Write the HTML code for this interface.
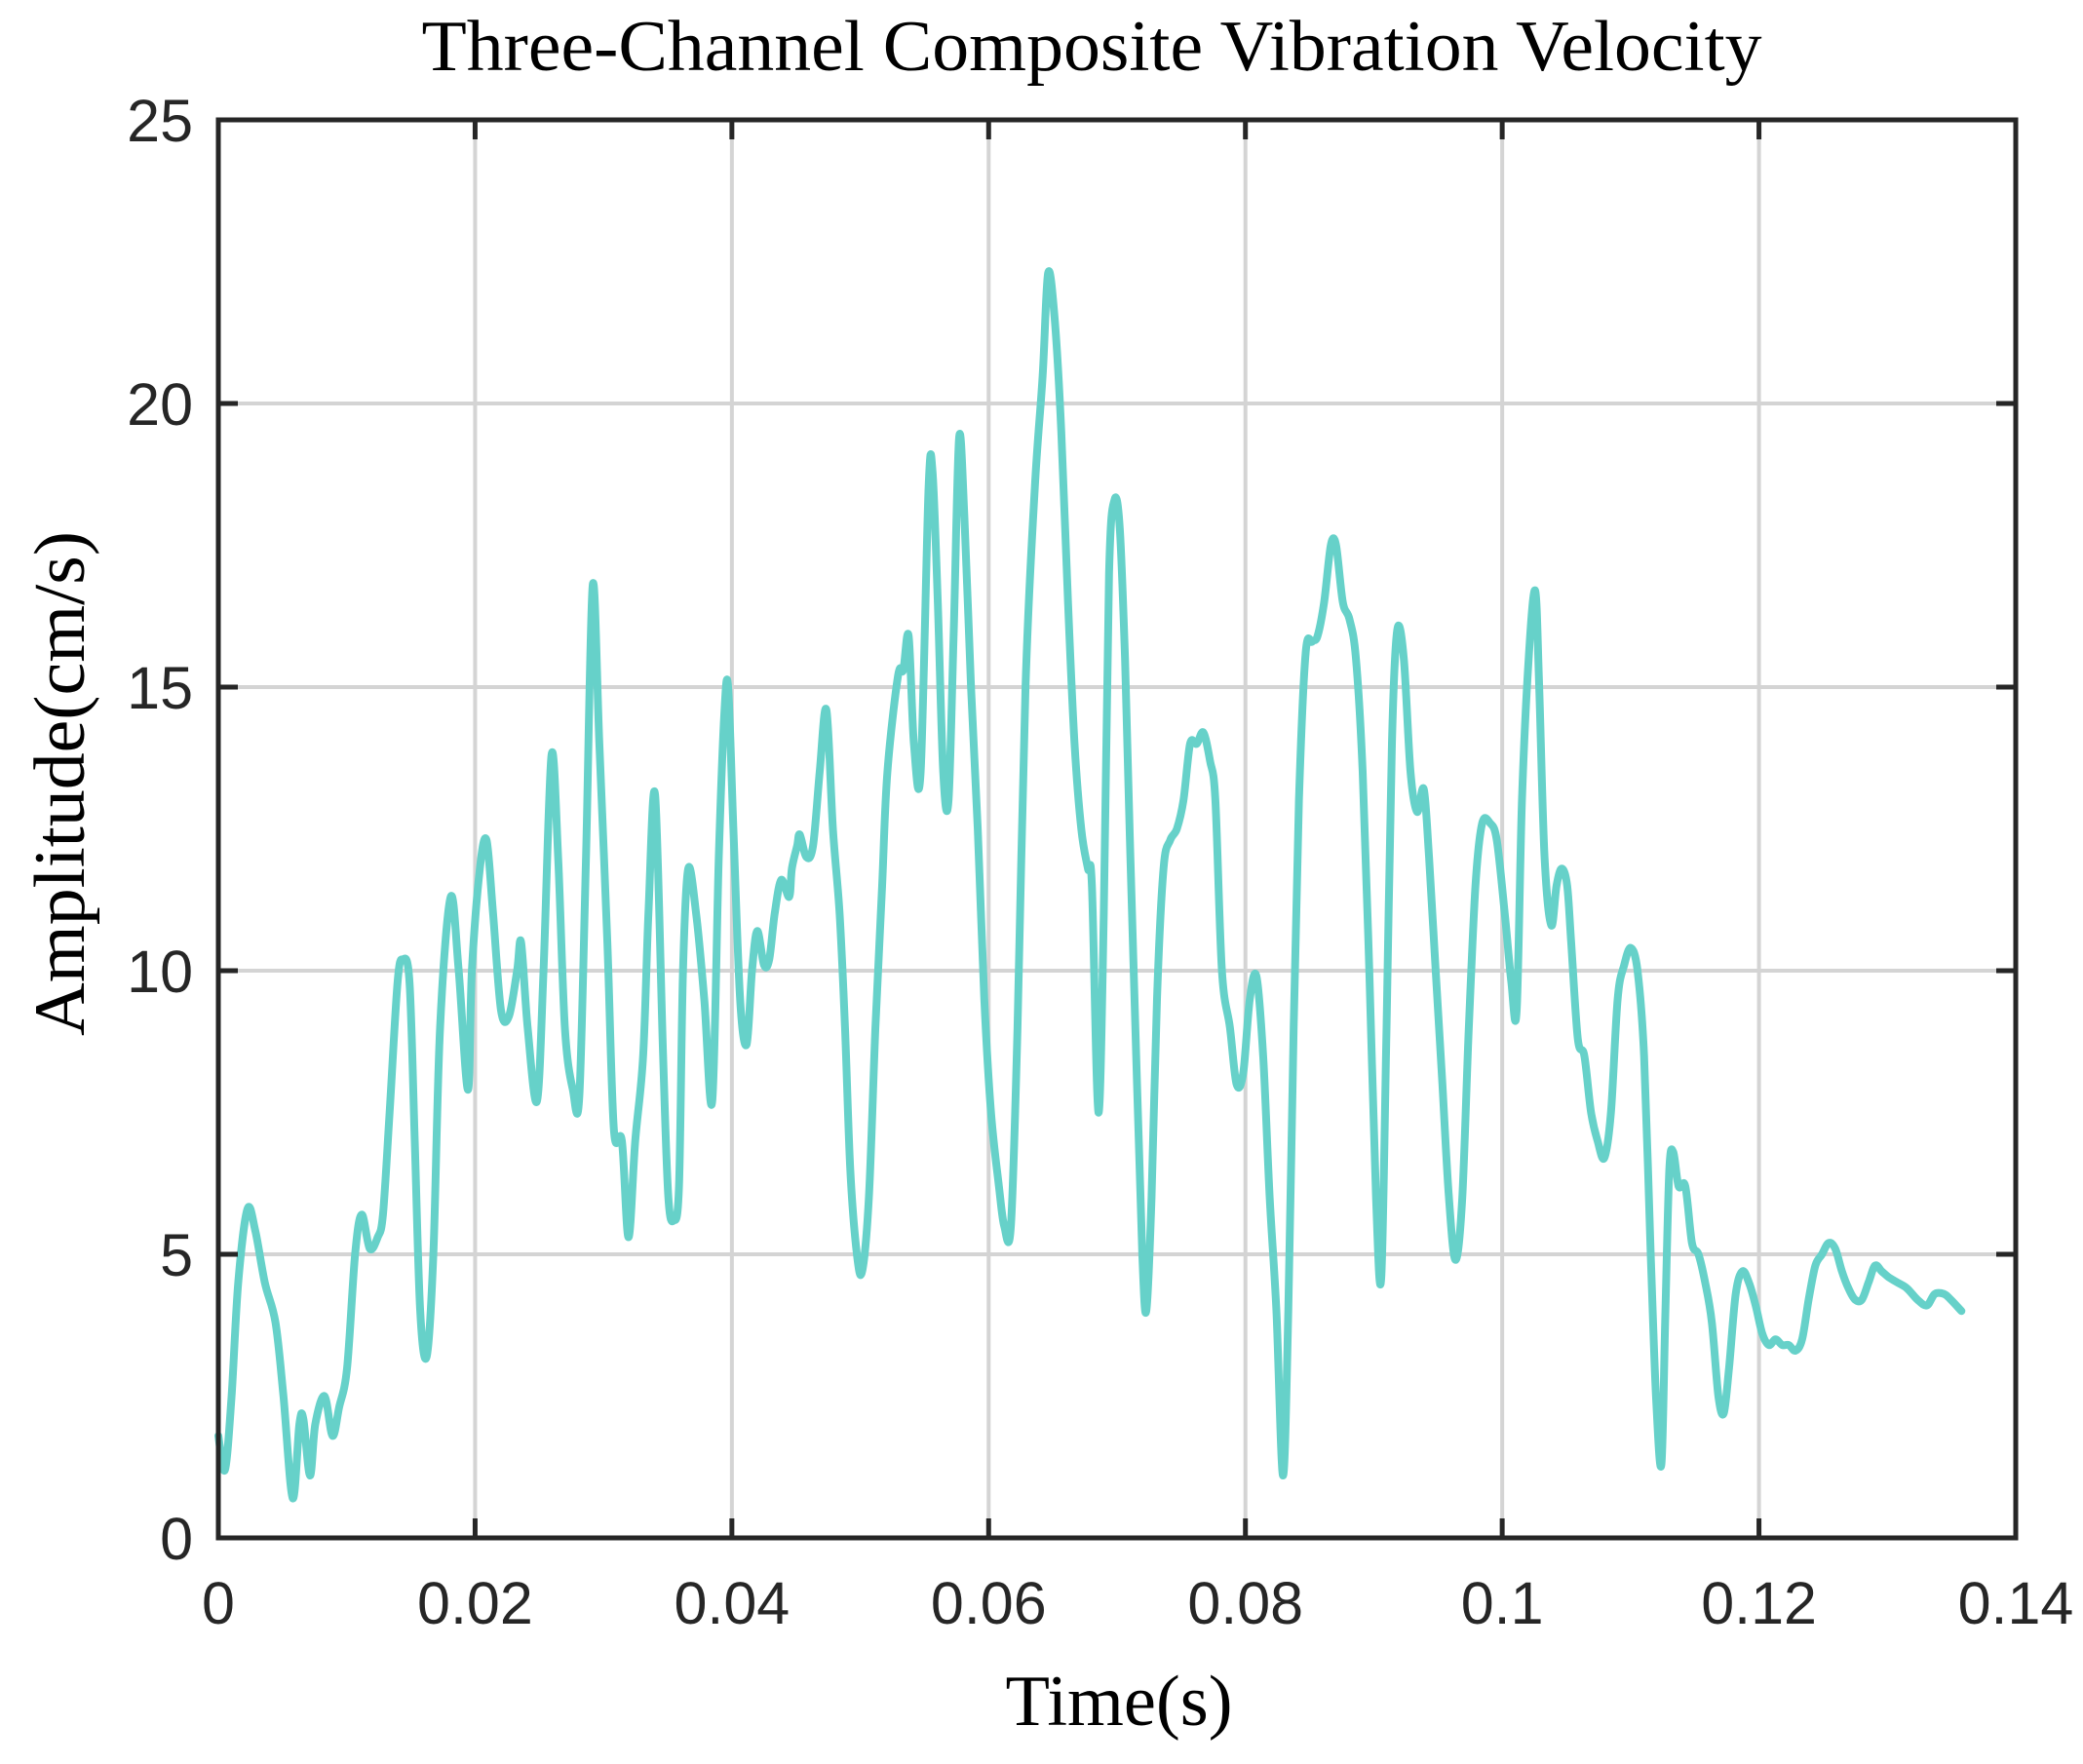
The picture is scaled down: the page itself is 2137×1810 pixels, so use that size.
<!DOCTYPE html>
<html><head><meta charset="utf-8"><style>
html,body{margin:0;padding:0;background:#fff;}
svg{display:block;}
</style></head><body>
<svg id="chart" width="2137" height="1810" viewBox="0 0 2137 1810" xmlns="http://www.w3.org/2000/svg">
<rect x="0" y="0" width="2137" height="1810" fill="#fff"/>
<g id="grid"></g>
<g id="series"></g>
<g id="axes"></g>
<text x="1120" y="72" text-anchor="middle" font-family="Liberation Serif, serif" font-size="74" textLength="1375" lengthAdjust="spacingAndGlyphs" fill="#000">Three-Channel Composite Vibration Velocity</text>
<text x="1148" y="1770" text-anchor="middle" font-family="Liberation Serif, serif" font-size="74" textLength="233" lengthAdjust="spacingAndGlyphs" fill="#000">Time(s)</text>
<text transform="translate(86,804) rotate(-90)" x="0" y="0" text-anchor="middle" font-family="Liberation Serif, serif" font-size="74" textLength="518" lengthAdjust="spacingAndGlyphs" fill="#000">Amplitude(cm/s)</text>
</svg>
<script>
const xTicks = [0, 0.02, 0.04, 0.06, 0.08, 0.1, 0.12, 0.14];
const xTickLabels = ["0", "0.02", "0.04", "0.06", "0.08", "0.1", "0.12", "0.14"];
const yTicks = [0, 5, 10, 15, 20, 25];
const yTickLabels = ["0", "5", "10", "15", "20", "25"];
const timeMs = [0,0.52,1.03,1.55,2.27,2.89,3.62,4.45,5.07,5.79,6.31,6.62,7.14,7.55,8.27,8.89,9.41,10.03,10.65,11.17,11.79,12.41,12.82,13.34,13.96,14.37,14.89,15.30,15.72,16.23,16.75,17.27,18.10,18.72,19.44,19.75,20.37,20.89,21.40,22.02,22.64,23.27,23.58,24.09,24.82,25.33,25.95,26.47,26.99,27.61,28.12,28.64,29.16,29.68,30.30,30.81,31.43,31.95,32.47,33.09,33.50,34.02,34.64,35.05,35.47,35.88,36.19,36.60,37.22,37.85,38.47,38.98,39.40,39.71,40.12,40.64,41.15,41.57,41.98,42.50,42.91,43.33,43.84,44.46,44.67,45.08,45.29,45.81,46.32,46.84,47.36,47.87,48.39,48.81,49.22,49.74,50.15,50.67,51.18,51.70,52.11,52.94,53.35,53.77,54.18,54.70,55.32,55.63,56.04,56.46,56.87,57.28,57.70,58.11,58.63,59.15,59.66,60.18,60.80,61.21,61.73,62.25,62.87,63.59,64.21,64.63,65.14,65.66,66.18,66.69,67.21,67.73,68.04,68.55,68.97,69.38,69.80,70.21,70.62,71.04,71.56,71.97,72.28,72.69,73.11,73.62,74.14,74.66,75.17,75.69,76.21,76.72,77.24,77.66,78.17,78.79,79.31,79.83,80.34,80.86,81.38,81.89,82.41,82.93,83.34,83.76,84.17,84.69,85.20,85.62,86.13,86.65,87.06,87.58,88.10,88.61,89.13,89.65,90.17,90.58,90.99,91.41,91.82,92.34,92.86,93.37,93.89,94.30,94.82,95.34,95.85,96.37,96.89,97.40,97.92,98.44,99.06,99.58,100.20,100.71,101.13,101.54,102.06,102.57,102.88,103.30,103.82,104.23,104.64,105.06,105.37,105.89,106.40,106.92,107.43,107.95,108.47,108.99,109.50,110.02,110.54,111.05,111.57,111.98,112.40,112.71,113.02,113.33,113.74,114.26,114.78,115.29,115.81,116.33,116.84,117.26,117.67,118.19,118.71,119.22,119.74,120.26,120.77,121.29,121.81,122.32,122.84,123.36,123.87,124.39,124.91,125.43,125.94,126.46,126.97,127.49,128.01,128.53,129.04,129.56,130.08,130.80,131.53,132.35,133.08,133.70,134.42,134.94,135.77];
const amplitude = [1.8,1.2,2.5,4.5,5.8,5.4,4.5,3.8,2.5,0.7,2.0,2.1,1.1,2.0,2.5,1.8,2.3,3.0,5.0,5.7,5.1,5.3,5.7,7.5,9.8,10.2,9.8,7.0,4.0,3.2,5.0,9.0,11.3,10.0,7.9,10.0,11.8,12.3,11.0,9.3,9.2,10.0,10.5,9.0,7.7,10.0,13.8,12.0,9.0,7.9,7.8,12.0,16.8,14.0,10.5,7.2,7.0,5.3,7.0,8.5,11.0,13.1,8.5,6.0,5.6,6.2,10.0,11.8,11.0,9.5,7.7,12.0,14.5,15.0,12.5,9.5,8.7,10.0,10.7,10.1,10.2,11.0,11.6,11.3,11.8,12.2,12.4,12.0,12.2,13.5,14.6,12.5,11.0,9.0,6.5,5.0,4.7,6.0,9.0,11.5,13.5,15.2,15.3,15.9,14.0,13.5,18.5,18.8,16.5,13.5,13.0,16.0,19.4,18.0,15.0,12.5,9.5,7.5,6.2,5.5,5.5,9.0,15.0,18.5,20.5,22.3,21.5,19.5,16.5,14.0,12.5,11.8,11.5,7.5,11.0,17.0,18.3,17.8,15.5,12.0,8.0,5.0,4.0,6.0,9.5,11.8,12.3,12.5,13.0,14.0,14.0,14.2,13.7,13.0,10.0,9.0,8.0,8.2,9.5,9.9,8.5,6.0,4.0,1.1,4.0,9.0,13.0,15.6,15.8,15.9,16.5,17.5,17.5,16.5,16.2,15.5,13.5,10.0,6.0,4.6,9.0,14.0,16.0,15.5,13.5,12.8,13.2,12.0,10.0,8.0,6.0,4.9,6.0,9.0,11.5,12.6,12.6,12.3,11.0,9.8,9.3,13.0,15.5,16.7,15.0,12.0,10.8,11.5,11.8,11.5,10.5,8.8,8.5,7.5,7.0,6.7,7.5,9.5,10.1,10.4,10.0,8.5,5.0,2.5,1.3,4.0,6.5,6.8,6.2,6.2,5.2,5.0,4.5,3.8,2.5,2.2,3.0,4.3,4.7,4.5,4.1,3.6,3.4,3.5,3.4,3.4,3.3,3.5,4.2,4.8,5.0,5.2,5.1,4.7,4.4,4.2,4.2,4.5,4.8,4.7,4.6,4.5,4.4,4.2,4.1,4.3,4.3,4.2,4.0];

const NS = "http://www.w3.org/2000/svg";
const L = 224, R = 2068, T = 123, B = 1578;
const xMin = 0, xMax = 0.14, yMin = 0, yMax = 25;
function xScale(v){ return L + (v - xMin) / (xMax - xMin) * (R - L); }
function yScale(v){ return B - (v - yMin) / (yMax - yMin) * (B - T); }
function mk(tag, attrs, parent){ const e = document.createElementNS(NS, tag); for (const k in attrs) e.setAttribute(k, attrs[k]); parent.appendChild(e); return e; }

const grid = document.getElementById('grid');
const axes = document.getElementById('axes');
const series = document.getElementById('series');

xTicks.forEach((t, i) => {
  const x = xScale(t);
  if (i > 0 && i < xTicks.length - 1) {
    const g = mk('line', {x1:x, y1:T, x2:x, y2:B, stroke:'#d4d4d4', 'stroke-width':4}, grid);
    
    
    const tb = mk('line', {x1:x, y1:B, x2:x, y2:B-20, stroke:'#262626', 'stroke-width':5}, axes);
    
    
    const tt = mk('line', {x1:x, y1:T, x2:x, y2:T+20, stroke:'#262626', 'stroke-width':5}, axes);
    
    
  }
  const lbl = mk('text', {x:x, y:1666, 'text-anchor':'middle', 'font-family':'Liberation Sans, sans-serif', 'font-size':61, fill:'#262626'}, axes);
  lbl.textContent = xTickLabels[i];
  
  
});

yTicks.forEach((t, i) => {
  const y = yScale(t);
  if (i > 0 && i < yTicks.length - 1) {
    const g = mk('line', {x1:L, y1:y, x2:R, y2:y, stroke:'#d4d4d4', 'stroke-width':4}, grid);
    
    
    const tl = mk('line', {x1:L, y1:y, x2:L+20, y2:y, stroke:'#262626', 'stroke-width':5}, axes);
    
    
    const tr = mk('line', {x1:R, y1:y, x2:R-20, y2:y, stroke:'#262626', 'stroke-width':5}, axes);
    
    
  }
  const lbl = mk('text', {x:198, y:y+22, 'text-anchor':'end', 'font-family':'Liberation Sans, sans-serif', 'font-size':61, fill:'#262626'}, axes);
  lbl.textContent = yTickLabels[i];
  
  
});

const box = mk('rect', {x:L, y:T, width:R-L, height:B-T, fill:'none', stroke:'#262626', 'stroke-width':5}, axes);



// Catmull-Rom spline through every data point
const P = timeMs.map((t, i) => [xScale(t / 1000), yScale(amplitude[i])]);
let d = 'M' + P[0][0].toFixed(1) + ',' + P[0][1].toFixed(1);
for (let i = 0; i < P.length - 1; i++) {
  const p0 = P[Math.max(0, i-1)], p1 = P[i], p2 = P[i+1], p3 = P[Math.min(P.length-1, i+2)];
  const c1x = p1[0] + (p2[0]-p0[0])/6, c1y = p1[1] + (p2[1]-p0[1])/6;
  const c2x = p2[0] - (p3[0]-p1[0])/6, c2y = p2[1] - (p3[1]-p1[1])/6;
  d += ' C' + c1x.toFixed(1) + ',' + c1y.toFixed(1) + ' ' + c2x.toFixed(1) + ',' + c2y.toFixed(1) + ' ' + p2[0].toFixed(1) + ',' + p2[1].toFixed(1);
}
const line = mk('path', {d:d, fill:'none', stroke:'#66d1c9', 'stroke-width':8, 'stroke-linejoin':'round', 'stroke-linecap':'round'}, series);


</script>
</body></html>
